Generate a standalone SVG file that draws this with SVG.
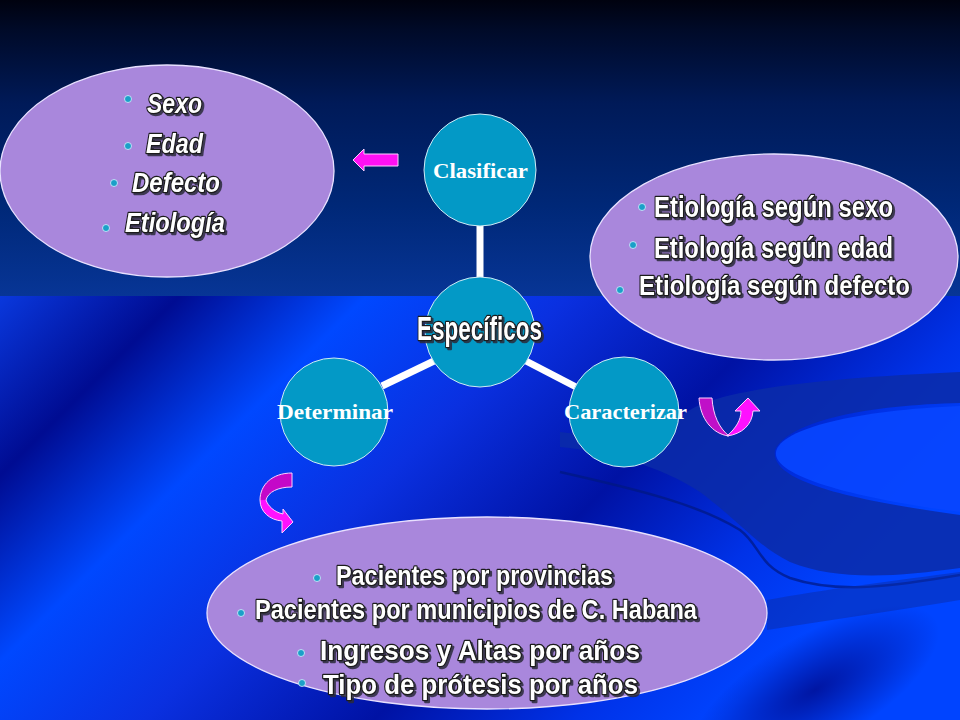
<svg xmlns="http://www.w3.org/2000/svg" width="960" height="720" viewBox="0 0 960 720">
<defs>
<linearGradient id="topbg" x1="0" y1="0" x2="0" y2="296" gradientUnits="userSpaceOnUse">
<stop offset="0" stop-color="#00020f"/>
<stop offset="0.1" stop-color="#000a28"/>
<stop offset="0.35" stop-color="#001a58"/>
<stop offset="0.7" stop-color="#002878"/>
<stop offset="1" stop-color="#073596"/>
</linearGradient>
<linearGradient id="botbg" x1="0" y1="0" x2="720" y2="720" gradientUnits="userSpaceOnUse">
<stop offset="0.2" stop-color="#0a3ae0"/>
<stop offset="0.33" stop-color="#000c92"/>
<stop offset="0.46" stop-color="#0048ff"/>
<stop offset="0.6" stop-color="#0a30e0"/>
<stop offset="0.76" stop-color="#0012a4"/>
<stop offset="0.9" stop-color="#0032e8"/>
<stop offset="1" stop-color="#0044ff"/>
</linearGradient>
<radialGradient id="darkblob" cx="0.5" cy="0.5" r="0.5">
<stop offset="0" stop-color="#000a8c" stop-opacity="0.8"/>
<stop offset="1" stop-color="#000a8c" stop-opacity="0"/>
</radialGradient>
<linearGradient id="curvArrow" x1="0" y1="0" x2="0" y2="1">
<stop offset="0.44" stop-color="#c408c8"/>
<stop offset="0.46" stop-color="#ff10ff"/>
</linearGradient>
<filter id="shadow" filterUnits="userSpaceOnUse" x="0" y="0" width="960" height="720">
<feDropShadow dx="2" dy="2" stdDeviation="0.6" flood-color="#2a2a3a" flood-opacity="0.85"/>
</filter>
<style>
.oval{fill:#a987dc;stroke:#e8e0ff;stroke-width:1.3}
.node{fill:#0399c6;stroke:#cfeaf5;stroke-width:1}
.link{stroke:#ffffff;stroke-width:7;fill:none}
.bul{fill:#1aa0c8;stroke:#d8f0ff;stroke-width:0.8}
.big{font-family:"Liberation Sans Narrow","Liberation Sans",Arial,sans-serif;font-weight:bold;fill:#ffffff;stroke:#1a1a1a;stroke-width:2.6;paint-order:stroke;stroke-linejoin:round;filter:url(#shadow)}
.it{font-style:italic}
.lab{font-family:"Liberation Serif","Times New Roman",serif;font-weight:bold;fill:#ffffff;font-size:22px}
.mag{stroke:#ffd0ff;stroke-width:1}
</style>
</defs>

<!-- background -->
<rect x="0" y="0" width="960" height="296" fill="url(#topbg)"/>
<rect x="0" y="296" width="960" height="424" fill="url(#botbg)"/>
<path d="M 560,432 C 620,440 660,430 690,410 C 720,390 820,378 960,372 L 960,403 C 870,405 790,420 775,450 C 770,478 830,497 960,515 L 960,568 C 900,576 840,582 790,562 C 760,548 740,522 700,492 C 660,466 610,452 560,447 Z" fill="#0a2ca8" opacity="0.85"/>
<path d="M 776,452 C 780,428 860,410 960,406 L 960,512 C 880,502 772,480 776,452 Z" fill="#0846ff" opacity="0.9"/>
<path d="M 560,472 C 640,490 700,505 740,530 C 760,545 758,565 790,578 C 840,595 900,585 960,575" fill="none" stroke="#001880" stroke-width="2.5" opacity="0.7"/>
<path d="M 767,600 C 820,590 900,580 960,572 L 960,600 C 900,610 830,620 767,630 Z" fill="#0a2ca8" opacity="0.5"/>
<ellipse cx="815" cy="690" rx="140" ry="55" transform="rotate(-30 815 690)" fill="url(#darkblob)"/>

<!-- connectors -->
<g id="connectors">
<line class="link" x1="480" y1="225" x2="480" y2="279"/>
<line class="link" x1="434" y1="361" x2="382" y2="386"/>
<line class="link" x1="526" y1="361" x2="578" y2="388"/>
</g>

<!-- arrows -->
<g id="arrow-left">
<polygon class="mag" fill="#ff10f4" points="353,160 364,149 364,154 398,154 398,166 364,166 364,171"/>
</g>
<g id="arrow-uturn">
<path class="mag" fill="#c010c8" d="M699,398 L712,398 C713,415 719,428 729,436 C712,434 700,418 699,398 Z"/>
<path class="mag" fill="#ff10ff" d="M727,436 C736,428 741,420 741,411 L735,411 L748,398 L760,411 L753,411 C752,425 742,434 727,436 Z"/>
</g>
<g id="arrow-curve">
<path class="mag" fill="url(#curvArrow)" d="M292,473 C272,473 260,485 260,500 C260,512 270,520 282,521 L282,533 L293,522 L283,509 L283,514 C274,512 268,506 266,500 C268,492 278,487 292,487 Z"/>
</g>

<!-- left oval -->
<g id="oval-left">
<ellipse class="oval" cx="167" cy="171" rx="167" ry="106"/>
<circle class="bul" cx="128" cy="99" r="3.5"/>
<circle class="bul" cx="128" cy="146" r="3.5"/>
<circle class="bul" cx="114" cy="183" r="3.5"/>
<circle class="bul" cx="106" cy="228" r="3.5"/>
<text class="big it" x="147" y="113" font-size="28" textLength="55" lengthAdjust="spacingAndGlyphs">Sexo</text>
<text class="big it" x="146" y="153" font-size="28" textLength="57" lengthAdjust="spacingAndGlyphs">Edad</text>
<text class="big it" x="132" y="192" font-size="28" textLength="88" lengthAdjust="spacingAndGlyphs">Defecto</text>
<text class="big it" x="125" y="232" font-size="28" textLength="100" lengthAdjust="spacingAndGlyphs">Etiología</text>
</g>

<!-- right oval -->
<g id="oval-right">
<ellipse class="oval" cx="774" cy="257" rx="184" ry="103"/>
<circle class="bul" cx="642" cy="207" r="3.5"/>
<circle class="bul" cx="633" cy="245" r="3.5"/>
<circle class="bul" cx="620" cy="290" r="3.5"/>
<text class="big" x="654" y="217" font-size="30" textLength="239" lengthAdjust="spacingAndGlyphs">Etiología según sexo</text>
<text class="big" x="654" y="258" font-size="30" textLength="239" lengthAdjust="spacingAndGlyphs">Etiología según edad</text>
<text class="big" x="639" y="295" font-size="28" textLength="271" lengthAdjust="spacingAndGlyphs">Etiología según defecto</text>
</g>

<!-- bottom oval -->
<g id="oval-bottom">
<ellipse class="oval" cx="487" cy="613" rx="280" ry="96"/>
<circle class="bul" cx="317" cy="578" r="3.5"/>
<circle class="bul" cx="241" cy="613" r="3.5"/>
<circle class="bul" cx="301" cy="653" r="3.5"/>
<circle class="bul" cx="302" cy="683" r="3.5"/>
<text class="big" x="336" y="585" font-size="28" textLength="277" lengthAdjust="spacingAndGlyphs">Pacientes por provincias</text>
<text class="big" x="255" y="619" font-size="28" textLength="442" lengthAdjust="spacingAndGlyphs">Pacientes por municipios de C. Habana</text>
<text class="big" x="320" y="660" font-size="28" textLength="320" lengthAdjust="spacingAndGlyphs">Ingresos y Altas por años</text>
<text class="big" x="323" y="694" font-size="28" textLength="315" lengthAdjust="spacingAndGlyphs">Tipo de prótesis por años</text>
</g>

<!-- nodes -->
<g id="node-clasificar">
<circle class="node" cx="480" cy="170" r="56"/>
<text class="lab" x="433" y="178" textLength="95" lengthAdjust="spacingAndGlyphs">Clasificar</text>
</g>
<g id="node-especificos">
<circle class="node" cx="480" cy="332" r="55"/>
<text class="big" x="417" y="340" font-size="33" textLength="125" lengthAdjust="spacingAndGlyphs">Específicos</text>
</g>
<g id="node-determinar">
<circle class="node" cx="334" cy="412" r="54"/>
<text class="lab" x="277" y="419" textLength="116" lengthAdjust="spacingAndGlyphs">Determinar</text>
</g>
<g id="node-caracterizar">
<circle class="node" cx="624" cy="412" r="55"/>
<text class="lab" x="564" y="419" textLength="123" lengthAdjust="spacingAndGlyphs">Caracterizar</text>
</g>
</svg>
